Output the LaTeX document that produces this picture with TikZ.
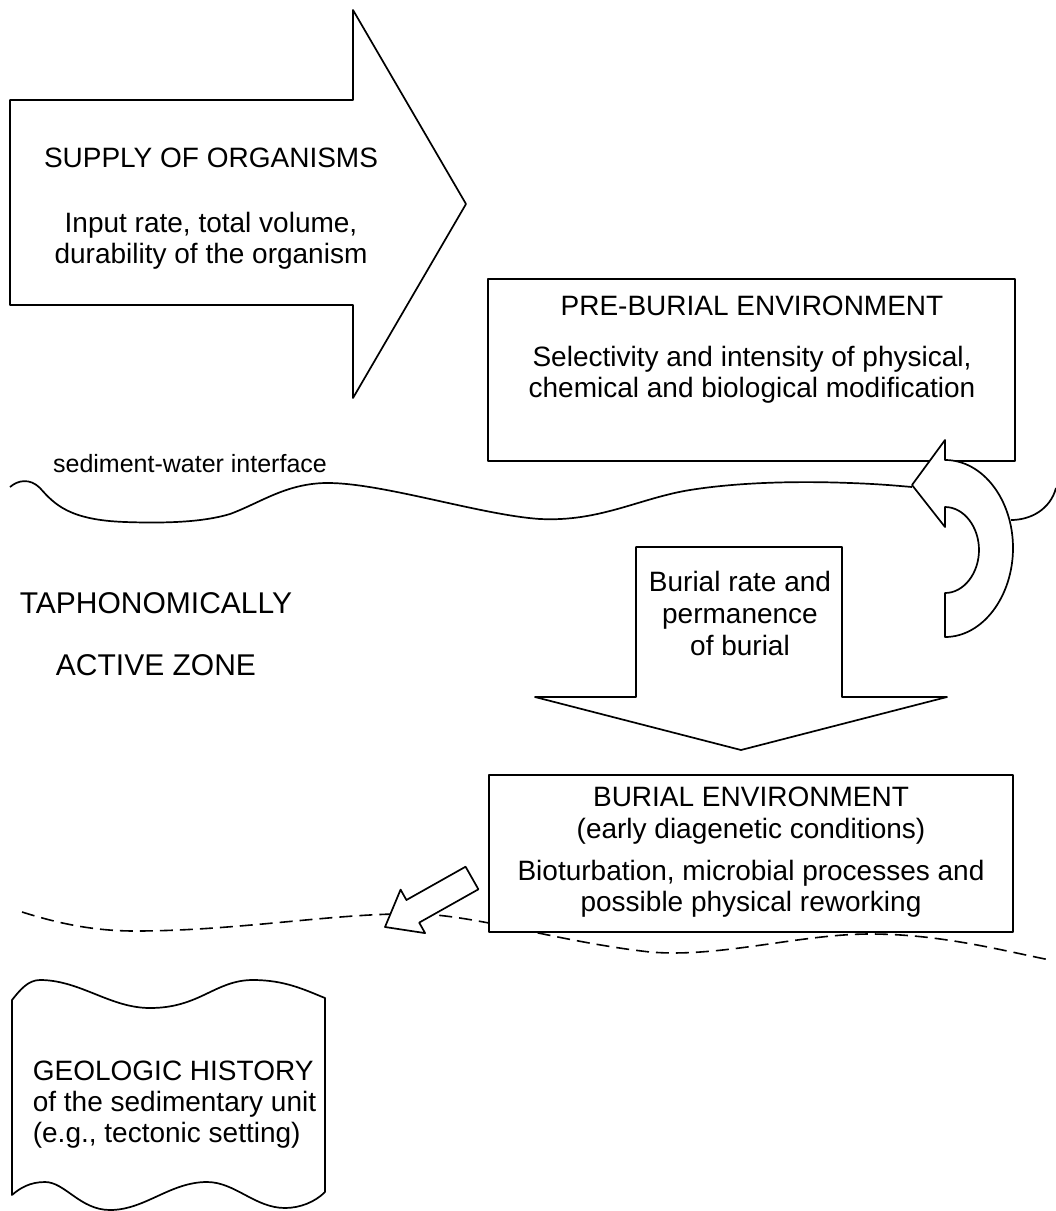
\documentclass[tikz,border=0pt]{standalone}
\usepackage{fontspec}
\setmainfont{Liberation Sans}
\begin{document}
\begin{tikzpicture}[x=1pt,y=-1pt,line width=1.7pt,line join=round,
  shapeline/.style={draw=black,fill=white,line width=1.7pt},
  boxnode/.style={draw=black,fill=white,line width=1.6pt,inner sep=0pt},
  txt/.style={inner sep=0pt,anchor=base,font=\fontsize{28}{32}\selectfont},
  bigtxt/.style={inner sep=0pt,anchor=base,font=\fontsize{30}{34}\selectfont},
  smalltxt/.style={inner sep=0pt,anchor=base,font=\fontsize{25}{29}\selectfont},
  wave/.style={draw=black,line width=1.7pt},
  dashwave/.style={draw=black,line width=1.6pt,dash pattern=on 13pt off 7pt}]
\useasboundingbox (0,0) rectangle (1056,1211);

% sediment-water interface
\draw[wave] (10,487) .. controls (18,480) and (30,478) .. (40,488)
  .. controls (55,505) and (70,520) .. (125,522)
  .. controls (180,524) and (210,520) .. (230,514)
  .. controls (260,503) and (285,484) .. (325,483)
  .. controls (380,482) and (480,515) .. (540,519)
  .. controls (600,522) and (640,498) .. (690,490)
  .. controls (740,482) and (800,481) .. (850,483)
  .. controls (880,484) and (900,486) .. (912,487);
\draw[wave] (1011,520) .. controls (1030,520) and (1050,510) .. (1056,488);

% lower dashed boundary
\draw[dashwave] (22,912) .. controls (60,924) and (95,931) .. (135,931)
  .. controls (240,931) and (340,912) .. (420,914)
  .. controls (480,916) and (560,942) .. (650,952)
  .. controls (720,958) and (800,934) .. (870,934)
  .. controls (940,934) and (1000,950) .. (1050,960);

% supply arrow
\draw[shapeline] (10,100) -- (353,100) -- (353,10) -- (466,204) -- (353,398)
  -- (353,305) -- (10,305) -- cycle;
\node[txt] (sup1) at (211,167) {SUPPLY OF ORGANISMS};
\node[txt] (sup2) at (211,232) {Input rate, total volume,};
\node[txt] (sup3) at (211,263) {durability of the organism};

\node[smalltxt] (swi) at (190,472) {sediment-water interface};

% pre-burial box
\node[boxnode,minimum width=527pt,minimum height=182pt] (pre) at (751.5,370) {};
\node[txt] (pre1) at (752,315) {PRE-BURIAL ENVIRONMENT};
\node[txt] (pre2) at (752,366) {Selectivity and intensity of physical,};
\node[txt] (pre3) at (752,397) {chemical and biological modification};

% curved return arrow
\draw[shapeline] (945,460) .. controls (983,460) and (1013,500) .. (1013,548)
  .. controls (1013,596) and (983,637) .. (945,637) -- (945,593)
  .. controls (964,593) and (979,573) .. (979,550)
  .. controls (979,527) and (964,507) .. (945,507) -- (945,527) -- (912,485)
  -- (945,440) -- cycle;

% burial arrow
\draw[shapeline] (636,547) -- (842,547) -- (842,697) -- (947,697) -- (741,750)
  -- (535,697) -- (636,697) -- cycle;
\node[txt] (bur1) at (740,591) {Burial rate and};
\node[txt] (bur2) at (740,623) {permanence};
\node[txt] (bur3) at (740,655) {of burial};

\node[bigtxt] (taz1) at (156,613) {TAPHONOMICALLY};
\node[bigtxt] (taz2) at (156,675) {ACTIVE ZONE};

% burial environment box
\node[boxnode,minimum width=524pt,minimum height=157pt] (bbox) at (751,853.5) {};
\node[txt] (be1) at (751,806) {BURIAL ENVIRONMENT};
\node[txt] (be2) at (751,838) {(early diagenetic conditions)};
\node[txt] (be3) at (751,880) {Bioturbation, microbial processes and};
\node[txt] (be4) at (751,911) {possible physical reworking};

% small arrow to geologic history
\draw[shapeline] (478.4,889.3) -- (419.2,922.6) -- (425.1,933.1) -- (385,927)
  -- (400.6,889.6) -- (406.4,900) -- (465.6,866.7) -- cycle;

% geologic history
\draw[shapeline] (12,1000) .. controls (20,990) and (28,980) .. (40,980)
  .. controls (80,980) and (110,1008) .. (150,1008)
  .. controls (200,1008) and (215,980) .. (253,980)
  .. controls (285,980) and (305,990) .. (325,998)
  -- (325,1192)
  .. controls (315,1202) and (300,1208) .. (285,1208)
  .. controls (255,1208) and (235,1182) .. (207,1182)
  .. controls (170,1182) and (145,1210) .. (110,1210)
  .. controls (80,1210) and (65,1182) .. (45,1182)
  .. controls (30,1182) and (20,1188) .. (12,1195) -- cycle;
\node[txt,anchor=base west] (geo1) at (32,1080) {GEOLOGIC HISTORY};
\node[txt,anchor=base west] (geo2) at (32,1111) {of the sedimentary unit};
\node[txt,anchor=base west] (geo3) at (32,1142) {(e.g., tectonic setting)};
\end{tikzpicture}
\end{document}
